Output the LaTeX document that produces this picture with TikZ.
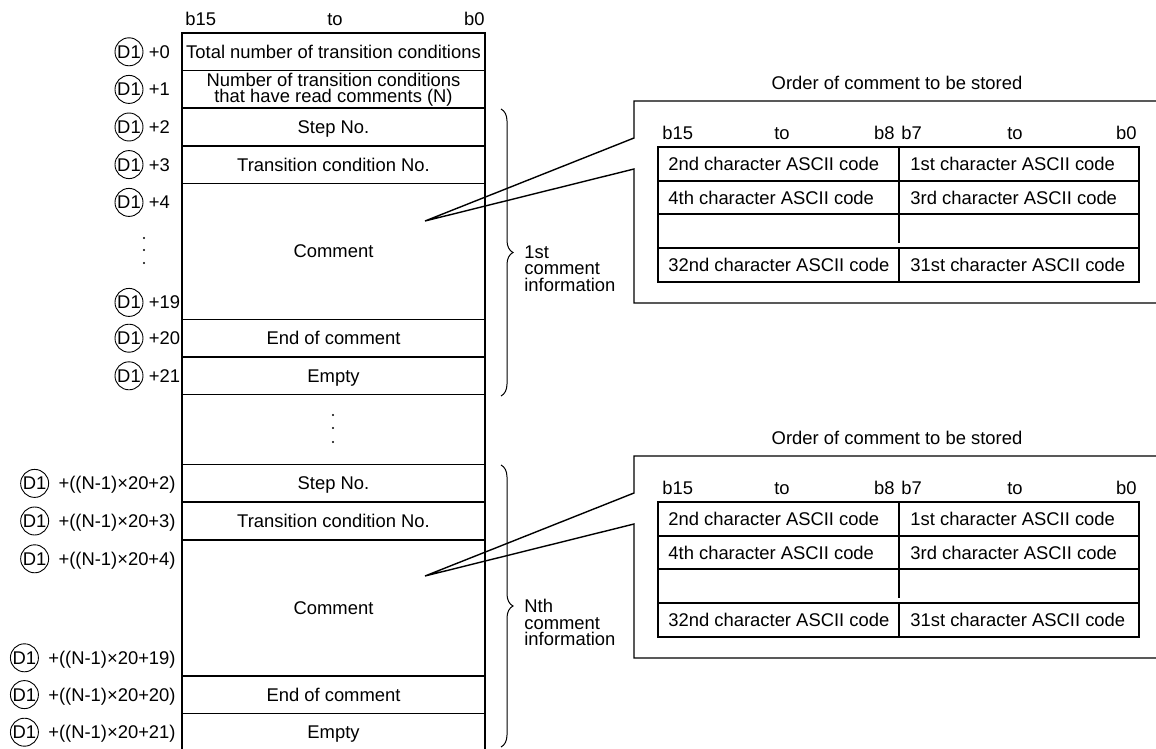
\documentclass[tikz,border=0pt]{standalone}
\usepackage{fontspec}
\setmainfont{Liberation Sans}
\usetikzlibrary{positioning,decorations.pathreplacing}

\tikzset{
	cellbox/.style={draw, line width=0.8pt, minimum width=151.5pt, minimum height=18.8pt, inner sep=0pt, outer sep=0pt, align=center},
	cell/.style={cellbox, text height=6.5pt, text depth=0pt},
	lbl/.style={inner sep=0pt, text height=6.5pt, text depth=0pt},
	dmark/.style={circle, draw, line width=0.45pt, inner sep=0pt, minimum size=14pt, text height=6.5pt, text depth=0pt},
	brc/.style={decorate, decoration={brace, amplitude=6pt}, line width=0.5pt},
	thinline/.style={line width=0.7pt},
	infotext/.style={anchor=north west, align=left, inner sep=0pt, font=\fontsize{9.2}{8.2}\selectfont},
}

\begin{document}
\begin{tikzpicture}[x=0.5pt, y=-0.5pt, font=\fontsize{9.2}{11}\selectfont]
	% параметры
	\def\Dx{-26.5pt} % сдвиг кружка D1 от таблицы
	\def\Oy{355}     % сдвиг второго блока

	\useasboundingbox (0,0) rectangle (1156,749);

	% шапка
	\node[lbl, anchor=west] (h15) at (185,19) {b15};
	\node[lbl] (hto) at (335,19) {to};
	\node[lbl, anchor=east] (h0) at (485,19) {b0};

	% таблица
	\node[cell, anchor=north] (r0) at (333.5,33) {Total number of transition conditions};
	\node[cellbox, below=0pt of r0, font=\fontsize{9.2}{8}\selectfont] (r1) {Number of transition conditions\\that have read comments (N)};
	\node[cell, below=0pt of r1] (r2) {Step No.};
	\node[cell, below=0pt of r2] (r3) {Transition condition No.};
	\node[cell, below=0pt of r3, minimum height=68pt] (r4) {Comment};
	\node[cell, below=0pt of r4] (r5) {End of comment};
	\node[cell, below=0pt of r5] (r6) {Empty};
	\node[cellbox, below=0pt of r6, minimum height=35pt] (r7) {};
	\node[cell, below=0pt of r7] (r8) {Step No.};
	\node[cell, below=0pt of r8] (r9) {Transition condition No.};
	\node[cell, below=0pt of r9, minimum height=68pt] (r10) {Comment};
	\node[cell, below=0pt of r10] (r11) {End of comment};
	\node[cell, below=0pt of r11] (r12) {Empty};

	% точки
	\foreach \y in {238,250,263} \fill (144,\y) circle (0.55pt);
	\foreach \y in {415,428,442} \fill (333,\y) circle (0.55pt);

	% адреса сверху
	\foreach \r/\t in {0/0, 1/1, 2/2, 3/3, 5/20, 6/21} {
		\node[dmark] (c\t) at ([xshift=\Dx]r\r.west) {D1};
		\node[lbl, right=2.5pt of c\t] (a\t) {+\t};
	}
	\node[dmark] (c4) at ([xshift=\Dx, yshift=-9.5pt]r4.north west) {D1};
	\node[lbl, right=2.5pt of c4] (a4) {+4};
	\node[dmark] (c19) at ([xshift=\Dx, yshift=8.5pt]r4.south west) {D1};
	\node[lbl, right=2.5pt of c19] (a19) {+19};

	% адреса снизу
	\foreach \r/\t in {8/2, 9/3, 11/20, 12/21} {
		\node[lbl, anchor=east] (n\t) at ([xshift=-3pt]r\r.west) {+((N-1)×20+\t)};
		\node[dmark, left=4.5pt of n\t] (d\t) {D1};
	}
	\node[lbl, anchor=east] (n4) at ([xshift=-3pt, yshift=-9.5pt]r10.north west) {+((N-1)×20+4)};
	\node[dmark, left=4.5pt of n4] (d4) {D1};
	\node[lbl, anchor=east] (n19) at ([xshift=-3pt, yshift=9pt]r10.south west) {+((N-1)×20+19)};
	\node[dmark, left=4.5pt of n19] (d19) {D1};

	% скобки
	\draw[brc] (501,109) -- (501,396);
	\coordinate (k1) at (501,252.5);
	\node[infotext] (g1) at ([xshift=11.5pt, yshift=3.5pt]k1) {1st\\comment\\information};
	\draw[brc] (501,465) -- (501,747);
	\coordinate (k2) at (501,606);
	\node[infotext] (g2) at ([xshift=11.5pt, yshift=3.5pt]k2) {Nth\\comment\\information};

	% блоки справа
	\foreach \o/\p in {0/a,\Oy/b} {
		% рамка с выноской
		\coordinate (tip\p) at (425,{221+\o});
		\draw[thinline] (1156,{101+\o}) -- (634,{101+\o}) -- (634,{138+\o}) -- (tip\p)
			-- (634,{169+\o}) -- (634,{303+\o}) -- (1156,{303+\o});
		\node[lbl] (ttl\p) at (897,{83+\o}) {Order of comment to be stored};
		% биты
		\node[lbl, anchor=west] (p15\p) at (662,{133+\o}) {b15};
		\node[lbl] (pto\p) at (782,{133+\o}) {to};
		\node[lbl, anchor=east] (p8\p) at (895,{133+\o}) {b8};
		\node[lbl, anchor=west] (p7\p) at (901,{133+\o}) {b7};
		\node[lbl] (qto\p) at (1015,{133+\o}) {to};
		\node[lbl, anchor=east] (p0\p) at (1137,{133+\o}) {b0};
		% сетка
		\draw[thinline] (658,{147+\o}) rectangle (1139,{282+\o});
		\foreach \yy in {181,214,248}
			\draw[thinline] (658,{\yy+\o}) -- (1139,{\yy+\o});
		\draw[thinline] (899,{147+\o}) -- (899,{243+\o});
		\draw[thinline] (899,{248+\o}) -- (899,{282+\o});
		% коды
		\foreach \yy/\hi/\lo in {164/2nd/1st, 197.5/4th/3rd, 265/32nd/31st} {
			\node[lbl, anchor=west] (hi\hi\p) at (668,{\yy+\o}) {\hi\ character ASCII code};
			\node[lbl, anchor=west] (lo\lo\p) at (910,{\yy+\o}) {\lo\ character ASCII code};
		}
	}
\end{tikzpicture}
\end{document}
